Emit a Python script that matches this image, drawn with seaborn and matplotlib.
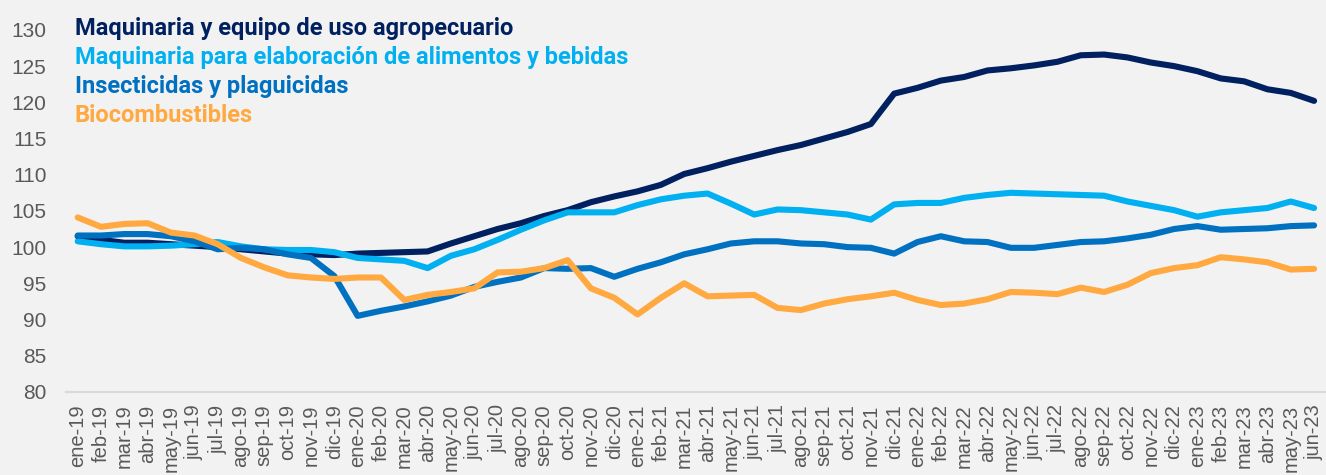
import pandas as pd
import seaborn as sns
import matplotlib.pyplot as plt
from matplotlib.ticker import FixedLocator

sns.set_style("white")
plt.rcParams['font.family'] = ['Liberation Sans', 'DejaVu Sans']

meses = ['ene', 'feb', 'mar', 'abr', 'may', 'jun', 'jul', 'ago', 'sep', 'oct', 'nov', 'dic']
fechas = [m + '-' + a for a in ['19', '20', '21', '22'] for m in meses] + \
         [m + '-23' for m in meses[:6]]

agro = [101.5, 101.0, 100.6, 100.6, 100.4, 100.2, 100.0, 99.7, 99.4, 99.1, 99.0, 98.9,
        99.1, 99.2, 99.3, 99.4, 100.5, 101.5, 102.5, 103.3, 104.3, 105.1, 106.2, 107.0,
        107.7, 108.6, 110.1, 110.9, 111.8, 112.6, 113.4, 114.1, 115.0, 115.9, 117.0, 121.2,
        122.0, 123.0, 123.5, 124.4, 124.7, 125.1, 125.6, 126.5, 126.6, 126.2, 125.5, 125.0,
        124.3, 123.3, 122.9, 121.8, 121.3, 120.2]
alimentos = [100.8, 100.4, 100.1, 100.1, 100.2, 100.4, 100.7, 100.1, 99.7, 99.6, 99.6, 99.3,
             98.5, 98.3, 98.1, 97.1, 98.8, 99.7, 101.0, 102.4, 103.7, 104.8, 104.8, 104.8,
             105.8, 106.6, 107.1, 107.4, 106.0, 104.5, 105.2, 105.1, 104.8, 104.5, 103.8, 105.9,
             106.1, 106.1, 106.8, 107.2, 107.5, 107.4, 107.3, 107.2, 107.1, 106.3, 105.7, 105.1,
             104.2, 104.8, 105.1, 105.4, 106.3, 105.4]
insecticidas = [101.6, 101.6, 101.8, 101.8, 101.5, 100.8, 99.7, 99.9, 99.7, 99.0, 98.5, 96.0,
                90.5, 91.2, 91.8, 92.5, 93.3, 94.5, 95.2, 95.8, 97.1, 97.0, 97.1, 95.9,
                97.0, 97.9, 99.0, 99.7, 100.5, 100.8, 100.8, 100.5, 100.4, 100.0, 99.9, 99.1,
                100.7, 101.5, 100.8, 100.7, 99.9, 99.9, 100.3, 100.7, 100.8, 101.2, 101.7, 102.5,
                102.9, 102.4, 102.5, 102.6, 102.9, 103.0]
bio = [104.1, 102.8, 103.2, 103.3, 102.0, 101.6, 100.4, 98.5, 97.2, 96.1, 95.8, 95.6,
       95.8, 95.8, 92.7, 93.4, 93.8, 94.3, 96.5, 96.6, 97.1, 98.2, 94.3, 93.0,
       90.7, 93.0, 95.0, 93.2, 93.3, 93.4, 91.6, 91.3, 92.2, 92.8, 93.2, 93.7,
       92.7, 92.0, 92.2, 92.8, 93.8, 93.7, 93.5, 94.4, 93.8, 94.8, 96.4, 97.1,
       97.5, 98.6, 98.3, 97.9, 96.9, 97.0]

series = ['Maquinaria y equipo de uso agropecuario',
          'Maquinaria para elaboración de alimentos y bebidas',
          'Insecticidas y plaguicidas',
          'Biocombustibles']
colores = ['#002060', '#00B0F0', '#0070C0', '#FFA940']

df = pd.concat([pd.DataFrame({'mes': range(len(fechas)), 'valor': v, 'serie': s})
                for s, v in zip(series, [agro, alimentos, insecticidas, bio])])

fig = plt.figure(figsize=(13.26, 4.75), dpi=100, facecolor='#F2F2F2')
ax = fig.add_axes([0.0498, 0.175, 0.95, 0.762])
ax.set_facecolor('#F2F2F2')

sns.lineplot(data=df, x='mes', y='valor', hue='serie', hue_order=series,
             palette=dict(zip(series, colores)), linewidth=4.4, legend=False, ax=ax)
for l in ax.lines:
    l.set_solid_joinstyle('round')
    l.set_solid_capstyle('round')

ax.set_xlim(-0.5, len(fechas) - 0.5)
ax.set_ylim(80, 130)
ax.set_yticks(range(80, 131, 5))
ax.set_xticks(range(len(fechas)))
ax.set_xticklabels(fechas, rotation=90)
ax.xaxis.set_minor_locator(FixedLocator([i - 0.5 for i in range(len(fechas) + 1)]))
ax.tick_params(axis='x', which='major', length=0, pad=9, labelsize=14.5, labelcolor='#595959')
ax.tick_params(axis='x', which='minor', length=5, width=1.2, color='#D9D9D9')
ax.tick_params(axis='y', length=0, pad=14, labelsize=15, labelcolor='#595959')
ax.set_xlabel('')
ax.set_ylabel('')
for s in ['left', 'right', 'top']:
    ax.spines[s].set_visible(False)
ax.spines['bottom'].set_color('#D9D9D9')
ax.spines['bottom'].set_linewidth(1.5)

for i, (s, c) in enumerate(zip(series, colores)):
    fig.text(75 / 1326, 1 - (28 + 29.3 * i) / 475, s, color=c, fontsize=17,
             fontweight='bold', family=['Roboto', 'DejaVu Sans'], va='center', ha='left')

fig.savefig('out.png', dpi=100, facecolor=fig.get_facecolor())
